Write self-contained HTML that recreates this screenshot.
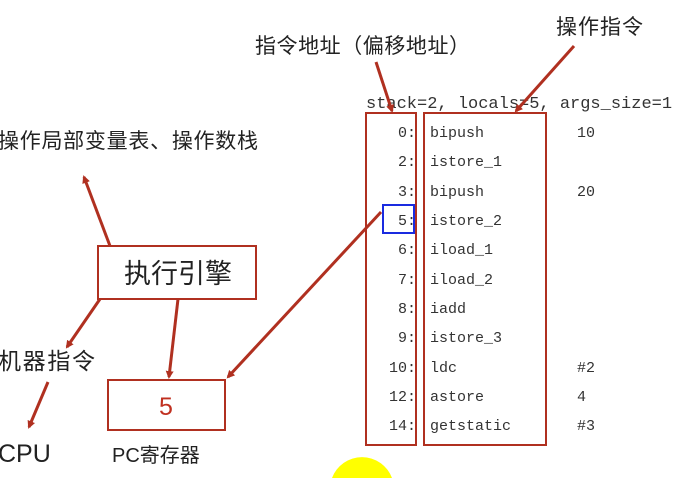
<!DOCTYPE html>
<html><head><meta charset="utf-8"><style>
html,body{margin:0;padding:0;background:#fff;overflow:hidden;width:684px;height:478px;}
svg{display:block}
.cn{font-family:"Liberation Sans","Noto Sans CJK SC",sans-serif;fill:#222}
.m{font-family:"Liberation Mono",monospace;font-size:15px;fill:#333}
</style></head><body>
<svg width="684" height="478" viewBox="0 0 684 478" xmlns="http://www.w3.org/2000/svg">
<defs><marker id="a" markerWidth="8" markerHeight="8" refX="6" refY="4" orient="auto" markerUnits="userSpaceOnUse"><path d="M0,0 L8,4 L0,8 z" fill="#b03020"/></marker></defs>
<path d="M332,478 A32,32 0 0 1 392,478 Z" fill="#ffff00"/>
<text class="cn" x="255" y="53" font-size="21" textLength="215">指令地址（偏移地址）</text>
<text class="cn" x="556" y="34" font-size="21" textLength="87">操作指令</text>
<text class="cn" x="-2" y="148" font-size="21" textLength="260">操作局部变量表、操作数栈</text>
<text class="cn" x="-2" y="369" font-size="23" textLength="97">机器指令</text>
<text class="cn" x="-2" y="462" font-size="25">CPU</text>
<text class="cn" x="112" y="462" font-size="20">PC寄存器</text>
<rect x="98" y="246" width="158" height="53" fill="#fff" stroke="#b03020" stroke-width="2"/>
<text class="cn" x="178" y="283" font-size="27" text-anchor="middle">执行引擎</text>
<rect x="108" y="380" width="117" height="50" fill="#fff" stroke="#b03020" stroke-width="2"/>
<text x="166" y="415" font-size="25" text-anchor="middle" fill="#c03020" font-family="Liberation Sans,sans-serif">5</text>
<text class="m" x="366" y="108" font-size="17" style="font-size:17px">stack=2, locals=5, args_size=1</text>
<rect x="366" y="113" width="50" height="332" fill="none" stroke="#b03020" stroke-width="2"/>
<rect x="424" y="113" width="122" height="332" fill="none" stroke="#b03020" stroke-width="2"/>
<rect x="383" y="205" width="31" height="28" fill="none" stroke="#1a2be0" stroke-width="2"/>
<g class="m" text-anchor="end">
<text x="416" y="137">0:</text><text x="416" y="166">2:</text><text x="416" y="196">3:</text><text x="416" y="225">5:</text><text x="416" y="254">6:</text><text x="416" y="284">7:</text><text x="416" y="313">8:</text><text x="416" y="342">9:</text><text x="416" y="372">10:</text><text x="416" y="401">12:</text><text x="416" y="430">14:</text>
</g>
<g class="m">
<text x="430" y="137">bipush</text><text x="430" y="166">istore_1</text><text x="430" y="196">bipush</text><text x="430" y="225">istore_2</text><text x="430" y="254">iload_1</text><text x="430" y="284">iload_2</text><text x="430" y="313">iadd</text><text x="430" y="342">istore_3</text><text x="430" y="372">ldc</text><text x="430" y="401">astore</text><text x="430" y="430">getstatic</text>
<text x="577" y="137">10</text><text x="577" y="196">20</text><text x="577" y="372">#2</text><text x="577" y="401">4</text><text x="577" y="430">#3</text>
</g>
<g stroke="#b03020" stroke-width="3" fill="none" marker-end="url(#a)">
<line x1="376" y1="62" x2="392" y2="111"/>
<line x1="574" y1="46" x2="516" y2="111"/>
<line x1="110" y1="246" x2="84" y2="177"/>
<line x1="100" y1="299" x2="67" y2="347"/>
<line x1="48" y1="382" x2="29" y2="427"/>
<line x1="178" y1="299" x2="169" y2="377"/>
<line x1="381" y1="212" x2="228" y2="377"/>
</g>
</svg>
</body></html>
